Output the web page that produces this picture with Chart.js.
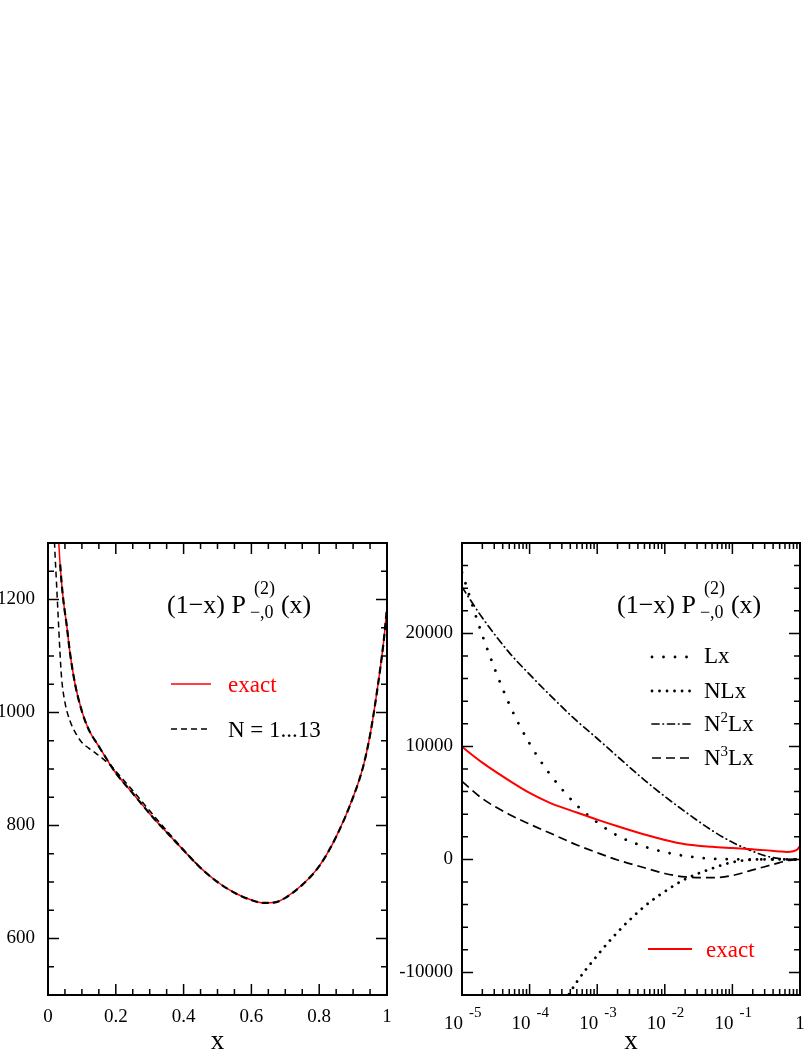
<!DOCTYPE html>
<html>
<head>
<meta charset="utf-8">
<script src="https://cdn.jsdelivr.net/npm/chart.js@4.4.1/dist/chart.umd.min.js"></script>
<style>
	body { margin: 0; background: #fff; }
	#wrap { position: relative; width: 812px; height: 1051px; }
	canvas { position: absolute; }
	#chartLeft { left: 0; top: 530px; }
	#chartRight { left: 400px; top: 530px; }
</style>
</head>
<body>
<div id="wrap">
	<canvas id="chartLeft" width="400" height="521"></canvas>
	<canvas id="chartRight" width="412" height="521"></canvas>
</div>
<script>
const SERIF = '"Liberation Serif", "Times New Roman", serif';

//left panel, linear x
const xTicksL = [0, 0.2, 0.4, 0.6, 0.8, 1];
const xTickLabelsL = ["0", "0.2", "0.4", "0.6", "0.8", "1"];
const yTicksL = [600, 800, 1000, 1200];
const yTickLabelsL = ["600", "800", "1000", "1200"];

const exactX = [0.03, 0.035, 0.04, 0.046, 0.055, 0.065, 0.08, 0.1, 0.12, 0.15, 0.18, 0.2, 0.25, 0.3, 0.35, 0.4, 0.45, 0.5, 0.55, 0.6, 0.635, 0.67, 0.7, 0.75, 0.8, 0.85, 0.9, 0.93, 0.95, 0.97, 0.99, 1.0];
const exactY = [1320, 1268, 1230, 1195, 1155, 1105, 1050, 1002, 970, 940, 911, 893, 857, 821, 788, 756, 725, 700, 681, 668, 663, 664, 672, 695, 728, 780, 850, 905, 960, 1035, 1125, 1185];

//moment fit, lies on top of the exact curve
const fitX = [0.036, 0.04, 0.046, 0.055, 0.065, 0.08, 0.1, 0.12, 0.15, 0.18, 0.2, 0.25, 0.3, 0.35, 0.4, 0.45, 0.5, 0.55, 0.6, 0.635, 0.67, 0.7, 0.75, 0.8, 0.85, 0.9, 0.93, 0.95, 0.97, 0.99, 1.0];
const fitY = [1262, 1230, 1195, 1155, 1105, 1050, 1002, 970, 940, 911, 893, 857, 821, 788, 756, 725, 700, 681, 668, 663, 664, 672, 695, 728, 780, 850, 905, 960, 1035, 1125, 1185];

//moment fit that leaves the exact curve at small x
const fitLowX = [0.018, 0.02, 0.025, 0.03, 0.035, 0.04, 0.05, 0.065, 0.085, 0.1, 0.12, 0.145, 0.17, 0.19, 0.2, 0.25, 0.3, 0.35, 0.4, 0.45];
const fitLowY = [1320, 1290, 1230, 1170, 1110, 1062, 1018, 985, 960, 947, 937, 926, 914, 903, 896, 862, 826, 791, 757, 725];

//right panel, log x
const xTicksR = [1e-5, 1e-4, 1e-3, 1e-2, 1e-1, 1];
const xTickExpR = ["-5", "-4", "-3", "-2", "-1", ""];
const yTicksR = [-10000, 0, 10000, 20000];
const yTickLabelsR = ["-10000", "0", "10000", "20000"];

const xR = [1e-5, 2e-5, 5e-5, 1e-4, 2e-4, 5e-4, 1e-3, 2e-3, 5e-3, 1e-2, 2e-2, 5e-2, 0.1, 0.2, 0.3, 0.5, 0.63, 0.8, 0.9, 1];
const exactR = [9960, 8560, 6970, 5880, 5000, 4150, 3520, 2930, 2200, 1720, 1340, 1110, 1000, 893, 821, 700, 663, 728, 850, 1185];
const lxR = [25400, 19830, 13740, 10250, 7540, 4780, 3280, 2100, 1135, 640, 308, 60, 15, 0, 0, 0, 0, 0, 0, 0];
const nlxR = [null, null, null, null, -14800, -10840, -8510, -6440, -4160, -2840, -1750, -800, -250, -20, 0, 0, 0, 0, 0, 0];
const n2lxR = [24100, 21380, 18300, 16370, 14540, 12250, 10700, 9100, 7020, 5570, 4220, 2560, 1510, 720, 330, 70, 10, 0, 0, 0];
const n3lxR = [6900, 5380, 3980, 3120, 2330, 1280, 590, -50, -740, -1245, -1550, -1620, -1430, -930, -650, -280, -120, -40, -10, 0];

//builds one line dataset from an x and a y list
function series(label, xs, ys, color, width, dash, cap, order) {
	return {
		label: label,
		data: xs.map((x, i) => ({ x: x, y: ys[i] })).filter((p) => p.y !== null),
		borderColor: color,
		borderWidth: width,
		borderDash: dash,
		borderCapStyle: cap,
		showLine: true,
		fill: false,
		pointRadius: 0,
		tension: 0.4,
		cubicInterpolationMode: "monotone",
		clip: 0,
		order: order,
	};
}

function linearMinors(min, max, step) {
	const out = [];
	for (let v = min; v <= max + step / 2; v += step)
		out.push(Math.round(v / step) * step);
	return out;
}

function logMinors(minExp, maxExp) {
	const out = [];
	for (let e = minExp; e < maxExp; e++)
		for (let m = 2; m <= 9; m++)
			out.push(m * Math.pow(10, e));
	return out;
}

//draws a short legend sample with the dataset's own line style
function sample(ctx, ds, x1, x2, y) {
	ctx.save();
	ctx.strokeStyle = ds.borderColor;
	ctx.lineWidth = ds.borderWidth;
	ctx.lineCap = ds.borderCapStyle;
	ctx.setLineDash(ds.borderDash);
	ctx.beginPath();
	ctx.moveTo(x1, y);
	ctx.lineTo(x2, y);
	ctx.stroke();
	ctx.restore();
}

//(1-x) P^(2)_{-,0} (x)
function drawTitle(ctx, x, y) {
	ctx.fillStyle = "#000";
	ctx.textAlign = "left";
	ctx.textBaseline = "alphabetic";
	ctx.font = "26px " + SERIF;
	const head = "(1\u2212x) P";
	ctx.fillText(head, x, y);
	const w = ctx.measureText(head).width;
	ctx.font = "18px " + SERIF;
	ctx.fillText("(2)", x + w + 8, y - 19);
	ctx.fillText("\u2212,0", x + w + 4, y + 5);
	const w2 = Math.max(ctx.measureText("(2)").width + 8, ctx.measureText("\u2212,0").width + 4);
	ctx.font = "26px " + SERIF;
	ctx.fillText("(x)", x + w + w2 + 6, y);
}

function legendText(ctx, text, x, y, color) {
	ctx.fillStyle = color;
	ctx.textAlign = "left";
	ctx.textBaseline = "alphabetic";
	ctx.font = "23px " + SERIF;
	ctx.fillText(text, x, y);
}

//N^k Lx with a raised k
function legendPower(ctx, k, x, y) {
	ctx.fillStyle = "#000";
	ctx.textAlign = "left";
	ctx.textBaseline = "alphabetic";
	ctx.font = "23px " + SERIF;
	ctx.fillText("N", x, y);
	let w = ctx.measureText("N").width;
	ctx.font = "15px " + SERIF;
	ctx.fillText(k, x + w, y - 9);
	w += ctx.measureText(k).width;
	ctx.font = "23px " + SERIF;
	ctx.fillText("Lx", x + w, y);
}

//frame, inward ticks on all four sides, and the texts in the plot
function makeDecor(cfg) {
	return {
		id: "decor",
		afterDatasetsDraw(chart) {
			const ctx = chart.ctx;
			const a = chart.chartArea;
			const sx = chart.scales.x;
			const sy = chart.scales.y;
			ctx.save();
			ctx.strokeStyle = "#000";
			ctx.lineWidth = 1.5;
			ctx.beginPath();
			const tickX = (v, len) => {
				const px = sx.getPixelForValue(v);
				ctx.moveTo(px, a.bottom);
				ctx.lineTo(px, a.bottom - len);
				ctx.moveTo(px, a.top);
				ctx.lineTo(px, a.top + len);
			};
			const tickY = (v, len) => {
				const py = sy.getPixelForValue(v);
				ctx.moveTo(a.left, py);
				ctx.lineTo(a.left + len, py);
				ctx.moveTo(a.right, py);
				ctx.lineTo(a.right - len, py);
			};
			cfg.xMinor.forEach((v) => tickX(v, 6));
			cfg.xMajor.forEach((v) => tickX(v, 11));
			cfg.yMinor.forEach((v) => tickY(v, 6));
			cfg.yMajor.forEach((v) => tickY(v, 11));
			ctx.stroke();
			ctx.lineWidth = 2;
			ctx.strokeRect(a.left, a.top, a.right - a.left, a.bottom - a.top);
			cfg.text(ctx, chart);
			ctx.restore();
		},
	};
}

function baseScales(yMin, yMax, yTicks, yLabels, yWidth, yPad) {
	return {
		y: {
			type: "linear",
			min: yMin,
			max: yMax,
			afterBuildTicks: (scale) => {
				scale.ticks = yTicks.map((v) => ({ value: v }));
			},
			afterFit: (scale) => {
				//fixed box so the plot area sits where the reference has it
				scale.width = yWidth;
				scale.paddingTop = 0;
				scale.paddingBottom = 0;
			},
			ticks: {
				color: "#000",
				padding: yPad,
				font: { family: SERIF, size: 19 },
				callback: (value, i) => yLabels[i],
			},
			grid: { display: false, drawTicks: false },
			border: { display: false },
		},
	};
}

function axisTitle() {
	return {
		display: true,
		text: "x",
		color: "#000",
		padding: { top: 0, bottom: 0 },
		font: { family: SERIF, size: 27, lineHeight: 0.66 },
	};
}

//left chart
const leftSets = [
	series("exact", exactX, exactY, "#ff0000", 1.5, [], "butt", 3),
	series("N = 1...13", fitX, fitY, "#000000", 2.2, [7, 4], "butt", 2),
	series("N = 1...13 low", fitLowX, fitLowY, "#000000", 1.5, [6, 4], "butt", 1),
];

const leftScales = baseScales(500, 1300, yTicksL, yTickLabelsL, 48, 13);
leftScales.x = {
	type: "linear",
	min: 0,
	max: 1,
	afterBuildTicks: (scale) => {
		scale.ticks = xTicksL.map((v) => ({ value: v }));
	},
	afterFit: (scale) => {
		scale.height = 56;
		scale.paddingLeft = 0;
		scale.paddingRight = 0;
	},
	ticks: {
		color: "#000",
		padding: 11,
		maxRotation: 0,
		font: { family: SERIF, size: 19 },
		callback: (value, i) => xTickLabelsL[i],
	},
	grid: { display: false, drawTicks: false },
	border: { display: false },
	title: axisTitle(),
};

new Chart(document.getElementById("chartLeft").getContext("2d"), {
	type: "scatter",
	data: { datasets: leftSets },
	options: {
		responsive: false,
		animation: false,
		layout: { padding: { left: 0, top: 13, right: 13, bottom: 0 } },
		plugins: { legend: { display: false }, tooltip: { enabled: false } },
		scales: leftScales,
	},
	plugins: [
		makeDecor({
			xMajor: xTicksL,
			xMinor: linearMinors(0, 1, 0.05),
			yMajor: yTicksL,
			yMinor: linearMinors(500, 1300, 50),
			text: (ctx) => {
				drawTitle(ctx, 167, 83);
				sample(ctx, leftSets[0], 171, 211, 154);
				legendText(ctx, "exact", 228, 162, "#ff0000");
				sample(ctx, leftSets[2], 171, 211, 199);
				legendText(ctx, "N = 1...13", 228, 207, "#000");
			},
		}),
	],
});

//right chart
const rightSets = [
	series("exact", xR, exactR, "#ff0000", 2, [], "butt", 1),
	series("Lx", xR, lxR, "#000000", 2.8, [0.01, 11.5], "round", 2),
	series("NLx", xR, nlxR, "#000000", 2.8, [0.01, 7.5], "round", 2),
	series("N2Lx", xR, n2lxR, "#000000", 1.7, [7, 4, 0.5, 4], "round", 2),
	series("N3Lx", xR, n3lxR, "#000000", 1.7, [9, 5], "butt", 2),
];

const rightScales = baseScales(-12000, 28000, yTicksR, yTickLabelsR, 62, 9);
rightScales.x = {
	type: "logarithmic",
	min: 1e-5,
	max: 1,
	afterFit: (scale) => {
		scale.height = 56;
		scale.paddingLeft = 0;
		scale.paddingRight = 0;
	},
	ticks: { display: false },
	grid: { display: false, drawTicks: false },
	border: { display: false },
	title: axisTitle(),
};

new Chart(document.getElementById("chartRight").getContext("2d"), {
	type: "scatter",
	data: { datasets: rightSets },
	options: {
		responsive: false,
		animation: false,
		layout: { padding: { left: 0, top: 13, right: 12, bottom: 0 } },
		plugins: { legend: { display: false }, tooltip: { enabled: false } },
		scales: rightScales,
	},
	plugins: [
		makeDecor({
			xMajor: xTicksR,
			xMinor: logMinors(-5, 0),
			yMajor: yTicksR,
			yMinor: linearMinors(-12000, 28000, 2000),
			text: (ctx, chart) => {
				//10^k tick labels under the log axis
				const sx = chart.scales.x;
				const bottom = chart.chartArea.bottom;
				ctx.fillStyle = "#000";
				ctx.textBaseline = "alphabetic";
				xTicksR.forEach((v, i) => {
					const px = sx.getPixelForValue(v);
					ctx.font = "19px " + SERIF;
					if (xTickExpR[i] === "") {
						ctx.textAlign = "center";
						ctx.fillText("1", px, bottom + 34);
						return;
					}
					ctx.textAlign = "right";
					ctx.fillText("10", px + 1, bottom + 34);
					ctx.textAlign = "left";
					ctx.font = "15px " + SERIF;
					ctx.fillText(xTickExpR[i], px + 7, bottom + 22);
				});

				drawTitle(ctx, 217, 83);
				sample(ctx, rightSets[1], 252, 292, 127);
				legendText(ctx, "Lx", 304, 133, "#000");
				sample(ctx, rightSets[2], 252, 292, 161);
				legendText(ctx, "NLx", 304, 168, "#000");
				sample(ctx, rightSets[3], 252, 292, 194);
				legendPower(ctx, "2", 304, 201);
				sample(ctx, rightSets[4], 252, 292, 228);
				legendPower(ctx, "3", 304, 235);
				sample(ctx, rightSets[0], 248, 292, 419);
				legendText(ctx, "exact", 306, 427, "#ff0000");
			},
		}),
	],
});
</script>
</body>
</html>
